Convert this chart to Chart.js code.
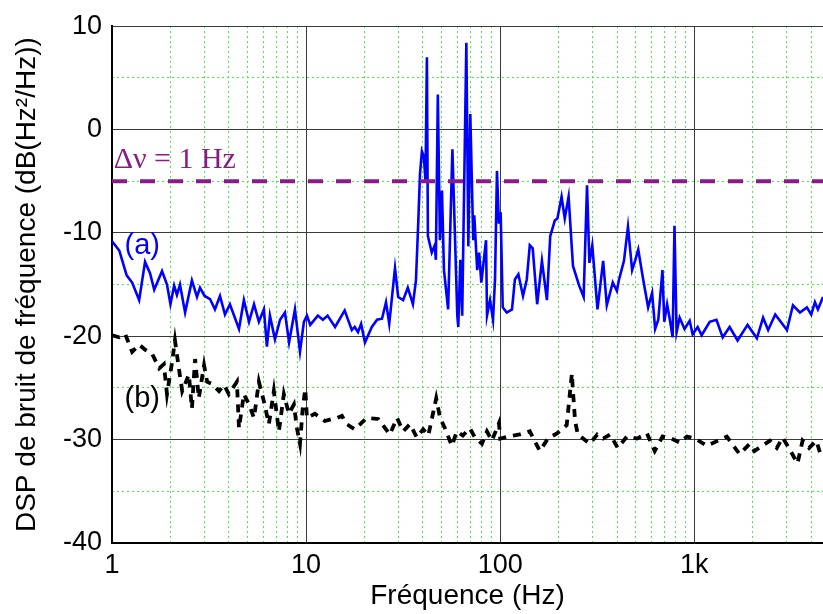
<!DOCTYPE html>
<html>
<head>
<meta charset="utf-8">
<script src="https://cdn.jsdelivr.net/npm/chart.js@4/dist/chart.umd.min.js"></script>
<style>
  html, body { margin: 0; padding: 0; background: #fff; }
  canvas { display: block; }
</style>
</head>
<body>
<canvas id="chart-dsp" width="823" height="614"></canvas>
<script>
// curve (a) - blue, solid
const aFreq = [1, 1.09, 1.19, 1.27, 1.38, 1.48, 1.57, 1.65, 1.81, 1.92, 2.0, 2.09, 2.16, 2.24, 2.38, 2.58, 2.74, 2.84, 3.0, 3.2,
    3.39, 3.6, 3.82, 4.05, 4.51, 4.78, 5.08, 5.39, 5.71, 6.06, 6.28, 6.51, 6.91, 7.34, 7.78, 8.17, 8.76, 9.3, 9.74, 10.1,
    10.5, 11.5, 12.2, 12.9, 14.1, 15.8, 17.2, 17.8, 18.5, 19.2, 20.1, 21.8, 23.2, 24.6, 25.8, 26.8, 28.7, 29.8, 31.6, 33.4,
    35.5, 36.8, 37.8, 38.6, 39.5, 40.4, 41.2, 41.9, 42.4, 44.4, 46.0, 46.6, 47.7, 48.9, 50.1, 51.3, 53.9, 56.7, 60.1, 60.8,
    62.3, 63.7, 66.9, 68.5, 70.1, 72.6, 73.5, 76.1, 77.9, 79.9, 84.5, 85.5, 88.6, 91.8, 94.0, 96.2, 98.4, 100.5, 103, 108,
    115, 119, 124, 131, 137, 142, 147, 155, 164, 174, 181, 191, 197, 207, 215, 225, 237, 255, 269, 280,
    288, 298, 317, 339, 354, 380, 399, 408, 434, 455, 478, 495, 514, 545, 578, 606, 628, 652, 685, 700,
    724, 748, 773, 790, 810, 840, 890, 946, 980, 1040, 1090, 1200, 1300, 1400, 1520, 1670, 1880, 2100, 2260, 2400,
    2610, 3000, 3220, 3500, 3800, 4000, 4180, 4330, 4600];
const aDsp = [-10.8, -11.7, -14.1, -14.8, -16.5, -12.8, -13.9, -15.5, -13.7, -15.0, -16.9, -15.1, -16.0, -15.0, -17.7, -14.6, -16.2, -15.3, -16.1, -16.4,
    -17.4, -16.1, -17.9, -16.9, -19.3, -16.5, -18.6, -16.9, -18.6, -17.4, -21.0, -18.0, -20.3, -18.4, -17.7, -20.6, -17.4, -21.5, -18.6, -18.0,
    -18.9, -18.0, -18.4, -18.0, -19.1, -17.5, -19.4, -19.1, -19.6, -18.8, -20.6, -19.1, -18.4, -18.3, -16.7, -18.8, -13.4, -16.2, -16.5, -15.3,
    -16.9, -14.6, -9.1, -4.3, -2.1, -2.6, -5.0, 7.0, -10.3, -11.9, -11.2, -12.6, 3.4, -10.7, -5.9, -13.6, -17.4, -1.9, -18.0, -19.1,
    -12.6, -18.0, 8.4, -11.3, 1.5, -10.7, -8.3, -13.6, -11.9, -14.8, -10.7, -18.0, -16.5, -18.4, -14.5, -4.0, -9.1, -8.0, -17.2, -17.7,
    -17.4, -14.5, -14.0, -16.1, -14.5, -11.2, -11.5, -16.9, -12.7, -16.5, -10.3, -8.8, -8.6, -6.5, -8.6, -6.5, -13.2, -15.1, -16.2, -5.4,
    -12.9, -11.2, -17.4, -12.7, -17.0, -14.8, -15.6, -14.6, -12.7, -9.4, -13.6, -12.7, -11.6, -14.5, -17.2, -15.8, -19.3, -18.4, -13.6, -18.6,
    -16.9, -18.4, -20.1, -9.3, -19.6, -18.2, -19.3, -18.5, -19.8, -19.1, -19.9, -18.6, -18.4, -20.1, -19.1, -20.4, -18.9, -20.2, -18.2, -19.4,
    -17.9, -19.4, -17.0, -17.7, -17.2, -17.9, -16.7, -17.4, -16.2];

// curve (b) - black, dashed
const bFreq = [1, 1.09, 1.17, 1.27, 1.38, 1.48, 1.61, 1.75, 1.85, 1.92, 2.04, 2.11, 2.21, 2.3, 2.49, 2.58, 2.68, 2.8, 2.98, 3.09,
    3.27, 3.56, 3.78, 4.0, 4.4, 4.51, 4.78, 5.08, 5.39, 5.71, 6.06, 6.43, 6.82, 7.24, 7.68, 8.15, 8.65, 8.97, 9.3, 9.6,
    9.9, 10.1, 11.1, 11.5, 12.5, 13.6, 14.4, 15.3, 16.2, 17.8, 20.5, 23.5, 27.0, 29.4, 31.6, 34.3, 37.2, 40.1, 42.6, 46.8,
    49.0, 51.9, 56.3, 59.8, 64.2, 69.7, 74.2, 80.5, 85.4, 90.6, 98.5, 100, 117, 126, 142, 160, 176, 196, 220, 234,
    237, 243, 251, 290, 316, 339, 368, 403, 449, 506, 570, 625, 686, 764, 843, 915, 1010, 1160, 1470, 1710,
    1930, 2040, 2450, 2660, 2850, 3090, 3400, 3610, 3900, 4250, 4530];
const bDsp = [-19.9, -20.1, -19.8, -21.5, -20.8, -21.3, -21.7, -23.1, -22.7, -25.6, -22.5, -20.4, -23.1, -25.3, -23.7, -27.0, -22.2, -26.0, -22.8, -24.4,
    -24.6, -25.3, -24.7, -25.6, -24.4, -28.9, -25.6, -26.6, -27.9, -24.4, -26.3, -28.5, -25.3, -29.2, -25.6, -27.5, -26.6, -28.9, -30.4, -27.0,
    -25.1, -27.9, -27.5, -27.7, -28.2, -28.0, -27.9, -27.7, -28.5, -29.0, -27.9, -28.0, -29.5, -27.9, -29.2, -28.5, -29.8, -29.0, -29.6, -26.0,
    -27.9, -28.9, -30.6, -29.2, -29.6, -28.9, -29.8, -30.4, -29.2, -30.1, -28.4, -29.9, -29.6, -29.5, -29.2, -31.1, -29.9, -29.4, -28.6, -23.6,
    -25.3, -28.2, -29.5, -30.4, -29.5, -29.9, -29.5, -30.8, -29.7, -29.9, -29.4, -31.1, -29.7, -29.9, -30.3, -29.7, -29.9, -30.6, -29.7, -31.4,
    -30.4, -31.1, -30.1, -30.8, -29.8, -30.9, -32.3, -30.1, -30.8, -30.1, -31.8];

// 1 Hz linewidth reference level
const levelFreq = [1, 4600];
const levelDsp = [-5, -5];

// axes
const xMin = 1;
const xMax = 4600;
const xTickValues = [1, 10, 100, 1000];
const xTickLabels = ['1', '10', '100', '1k'];
const yMin = -40;
const yMax = 10;

// text labels placed in data coordinates
const notes = [
    { text: '(a)', x: 1.16, y: -11.3, color: '#0000ff', font: '29px "Liberation Sans", Arial, sans-serif' },
    { text: '(b)', x: 1.16, y: -26.1, color: '#000000', font: '29px "Liberation Sans", Arial, sans-serif' },
    { text: 'Δν = 1 Hz', x: 1.02, y: -3.0, color: '#8a1a8a', font: '30px "Liberation Serif", "Times New Roman", serif' }
];

function toPoints(xs, ys) {
    return xs.map(function(v, i) { return { x: v, y: ys[i] }; });
}

// minor log positions 2..9 in each decade
const minorValues = [];
[1, 10, 100, 1000].forEach(function(d) {
    for (let k = 2; k <= 9; k++) {
        if (k * d <= xMax) minorValues.push(k * d);
    }
});

const sansFont = '"Liberation Sans", Arial, sans-serif';
const majorGrid = '#3a3a3a';
const minorGrid = '#44ee44';

const notesPlugin = {
    id: 'curveNotes',
    afterDatasetsDraw(chart) {
        const { ctx, scales } = chart;
        ctx.save();
        ctx.textBaseline = 'middle';
        ctx.textAlign = 'left';
        notes.forEach(function(n) {
            ctx.font = n.font;
            ctx.fillStyle = n.color;
            ctx.fillText(n.text, scales.x.getPixelForValue(n.x), scales.y.getPixelForValue(n.y));
        });
        ctx.restore();
    }
};

document.addEventListener('DOMContentLoaded', function() {
    const ctx = document.getElementById('chart-dsp').getContext('2d');

    new Chart(ctx, {
        type: 'line',
        data: {
            datasets: [
                {
                    label: 'level',
                    data: toPoints(levelFreq, levelDsp),
                    borderColor: '#8a1a8a',
                    borderWidth: 4,
                    borderDash: [15, 13],
                    order: 0
                },
                {
                    label: '(a)',
                    data: toPoints(aFreq, aDsp),
                    borderColor: '#0000ff',
                    borderWidth: 2.6,
                    order: 1
                },
                {
                    label: '(b)',
                    data: toPoints(bFreq, bDsp),
                    borderColor: '#000000',
                    borderWidth: 3.8,
                    borderDash: [8, 7],
                    order: 2
                }
            ]
        },
        options: {
            responsive: false,
            animation: false,
            layout: { padding: { top: 21, left: 0, right: 0, bottom: 0 } },
            elements: {
                point: { radius: 0 },
                line: { tension: 0, fill: false }
            },
            plugins: {
                legend: { display: false },
                tooltip: { enabled: false }
            },
            scales: {
                x: {
                    type: 'logarithmic',
                    position: 'bottom',
                    min: xMin,
                    max: xMax,
                    afterBuildTicks: function(scale) {
                        scale.ticks = xTickValues.map(function(v) { return { value: v }; });
                    },
                    afterFit: function(scale) { scale.height = 71; },
                    grid: { color: majorGrid, lineWidth: 1, drawTicks: false },
                    border: { display: true, color: '#000', width: 2 },
                    ticks: {
                        autoSkip: false,
                        maxRotation: 0,
                        padding: 6,
                        color: '#000',
                        font: { family: sansFont, size: 27 },
                        callback: function(value, index) { return xTickLabels[index]; }
                    },
                    title: {
                        display: true,
                        text: 'Fréquence (Hz)',
                        color: '#000',
                        font: { family: sansFont, size: 28 },
                        padding: { top: 0, bottom: 1 }
                    }
                },
                xMinor: {
                    type: 'logarithmic',
                    position: 'top',
                    min: xMin,
                    max: xMax,
                    afterBuildTicks: function(scale) {
                        scale.ticks = minorValues.map(function(v) { return { value: v }; });
                    },
                    afterFit: function(scale) { scale.height = 0; },
                    grid: { color: minorGrid, lineWidth: 1, drawTicks: false },
                    border: { display: true, width: 0, dash: [2, 3] },
                    ticks: { display: false }
                },
                y: {
                    type: 'linear',
                    position: 'left',
                    min: yMin,
                    max: yMax,
                    afterFit: function(scale) { scale.width = 112; },
                    grid: { color: majorGrid, lineWidth: 1, drawTicks: false },
                    border: { display: true, color: '#000', width: 2 },
                    ticks: {
                        stepSize: 10,
                        padding: 10,
                        color: '#000',
                        font: { family: sansFont, size: 27 }
                    },
                    title: {
                        display: true,
                        text: 'DSP de bruit de fréquence (dB(Hz²/Hz))',
                        color: '#000',
                        font: { family: sansFont, size: 28 },
                        padding: { top: 10, bottom: 0 }
                    }
                },
                yMinor: {
                    type: 'linear',
                    position: 'right',
                    min: yMin,
                    max: yMax,
                    afterFit: function(scale) { scale.width = 0; },
                    grid: {
                        color: function(c) {
                            return (c.tick && c.tick.value % 10 === 0) ? 'rgba(0,0,0,0)' : minorGrid;
                        },
                        lineWidth: 1,
                        drawTicks: false
                    },
                    border: { display: true, width: 0, dash: [2, 3] },
                    ticks: { display: false, stepSize: 5 }
                }
            }
        },
        plugins: [notesPlugin]
    });
});
</script>
</body>
</html>
